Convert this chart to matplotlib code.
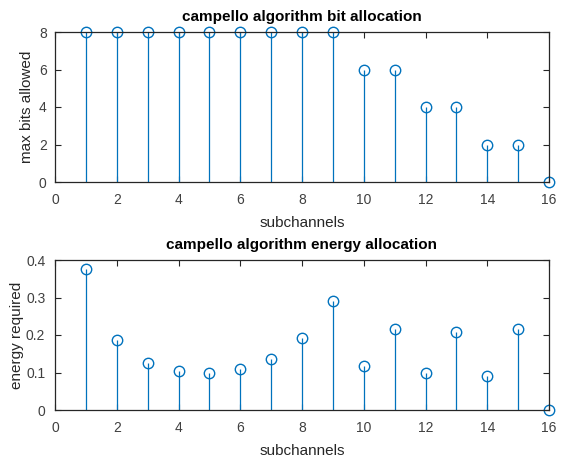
import matplotlib
matplotlib.use("Agg")
import matplotlib.pyplot as plt

plt.rcParams['font.family'] = ['Liberation Sans', 'DejaVu Sans']

subch = list(range(1, 17))
bits = [8, 8, 8, 8, 8, 8, 8, 8, 8, 6, 6, 4, 4, 2, 2, 0]
energy = [0.376, 0.188, 0.125, 0.104, 0.100, 0.110, 0.137, 0.192, 0.292,
          0.118, 0.215, 0.098, 0.207, 0.092, 0.215, 0.0]

BLUE = "#0072BD"
GREY = "#262626"
W, H = 561, 459
fig = plt.figure(figsize=(W / 100, H / 100), dpi=100)
fig.patch.set_facecolor("white")

def panel(rect, y, ylim, yticks, title, ylabel, ylx, ypad):
    ax = fig.add_axes(rect)
    ml, sl, bl = ax.stem(subch, y, basefmt="k-")
    plt.setp(sl, color=BLUE, lw=0.9)
    plt.setp(ml, color=BLUE, markerfacecolor="none", markersize=7.5, mew=1.0)
    bl.set_visible(False)
    ml.set_clip_on(False)
    ax.set_xlim(0, 16)
    ax.set_ylim(*ylim)
    ax.set_xticks(range(0, 17, 2))
    ax.set_yticks(yticks)
    ax.tick_params(direction="in", top=True, right=True, labelsize=10,
                   length=4, width=0.8, colors=GREY, labelcolor="#404040")
    ax.tick_params(axis="x", pad=8)
    ax.tick_params(axis="y", pad=ypad)
    for s in ax.spines.values():
        s.set_color(GREY)
        s.set_linewidth(0.9)
    ax.set_title(title, fontsize=11, fontweight="bold", pad=8)
    ax.set_xlabel("subchannels", fontsize=11, color=GREY)
    ax.xaxis.set_label_coords(0.5, -0.227)
    ax.set_ylabel(ylabel, fontsize=11, color=GREY)
    ax.yaxis.set_label_coords(ylx, 0.5)
    return ax

panel([55 / W, 1 - 182 / H, 494 / W, 150 / H], bits, (0, 8), [0, 2, 4, 6, 8],
      "campello algorithm bit allocation", "max bits allowed", (34 - 55) / 494, 6)
ax2 = panel([55 / W, 1 - 410 / H, 494 / W, 150 / H], energy, (0, 0.4),
            [0, 0.1, 0.2, 0.3, 0.4],
            "campello algorithm energy allocation", "energy required",
            (24 - 55) / 494, 7)
ax2.set_yticklabels(["0", "0.1", "0.2", "0.3", "0.4"])

fig.savefig("out.png", dpi=100, facecolor="white")
